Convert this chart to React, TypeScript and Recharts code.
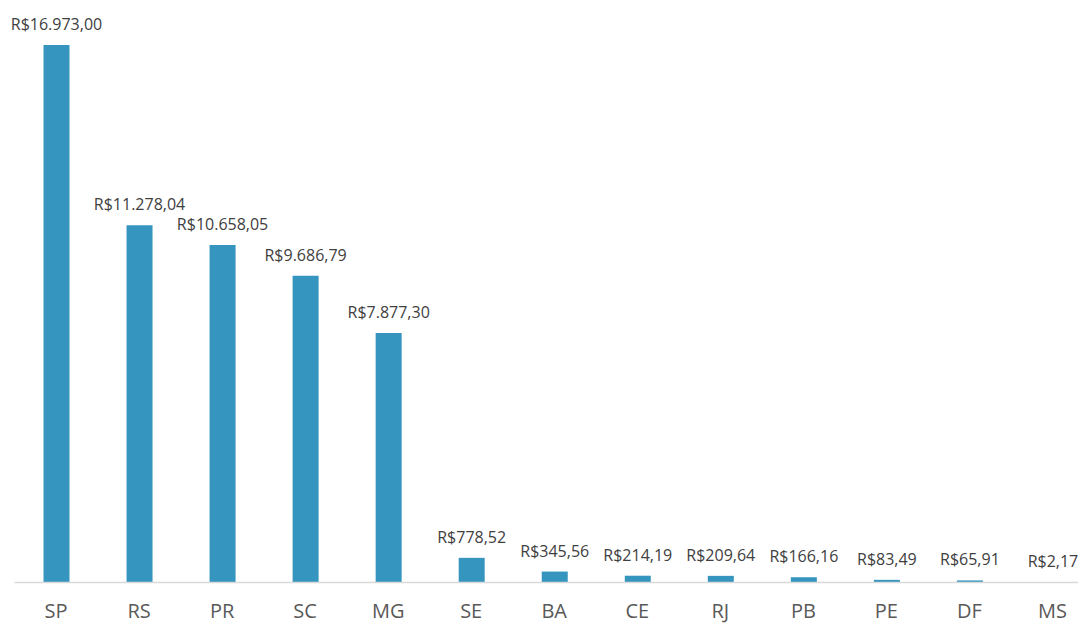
import React from 'react'
import { BarChart, Bar, XAxis, YAxis, LabelList } from 'recharts'

const states = ['SP', 'RS', 'PR', 'SC', 'MG', 'SE', 'BA', 'CE', 'RJ', 'PB', 'PE', 'DF', 'MS']
const totals = [16973.0, 11278.04, 10658.05, 9686.79, 7877.3, 778.52, 345.56, 214.19, 209.64, 166.16, 83.49, 65.91, 2.17]

const data = states.map((uf, i) => ({ uf, total: totals[i] }))

// R$ 1.234,56 style
const brl = (v: any) => {
  const [int, dec] = Number(v).toFixed(2).split('.')
  return 'R$' + int.replace(/\B(?=(\d{3})+(?!\d))/g, '.') + ',' + dec
}

const App = () => {
  return (
    <div style={{ position: 'absolute', left: 0, top: 0, width: 1078, height: 623, overflow: 'hidden', background: '#fff' }}>
      <BarChart
        width={1094}
        height={623}
        data={data}
        margin={{ top: 45, right: 0, bottom: 0, left: 14.5 }}
        barSize={26}
      >
        <XAxis
          dataKey="uf"
          height={40.5}
          tickLine={false}
          tickMargin={15}
          axisLine={{ stroke: '#D9D9D9', strokeWidth: 1.5 }}
          tick={{ fill: '#595959', fontSize: 20, fontFamily: '"Open Sans", sans-serif' }}
          interval={0}
        />
        <YAxis hide domain={[0, 'dataMax']} />
        <Bar dataKey="total" fill="#3595BE" isAnimationActive={false}>
          <LabelList
            dataKey="total"
            position="top"
            offset={15}
            formatter={brl}
            fill="#404040"
            fontSize={16}
            fontFamily='"Open Sans", sans-serif'
          />
        </Bar>
      </BarChart>
    </div>
  )
}

export default App
